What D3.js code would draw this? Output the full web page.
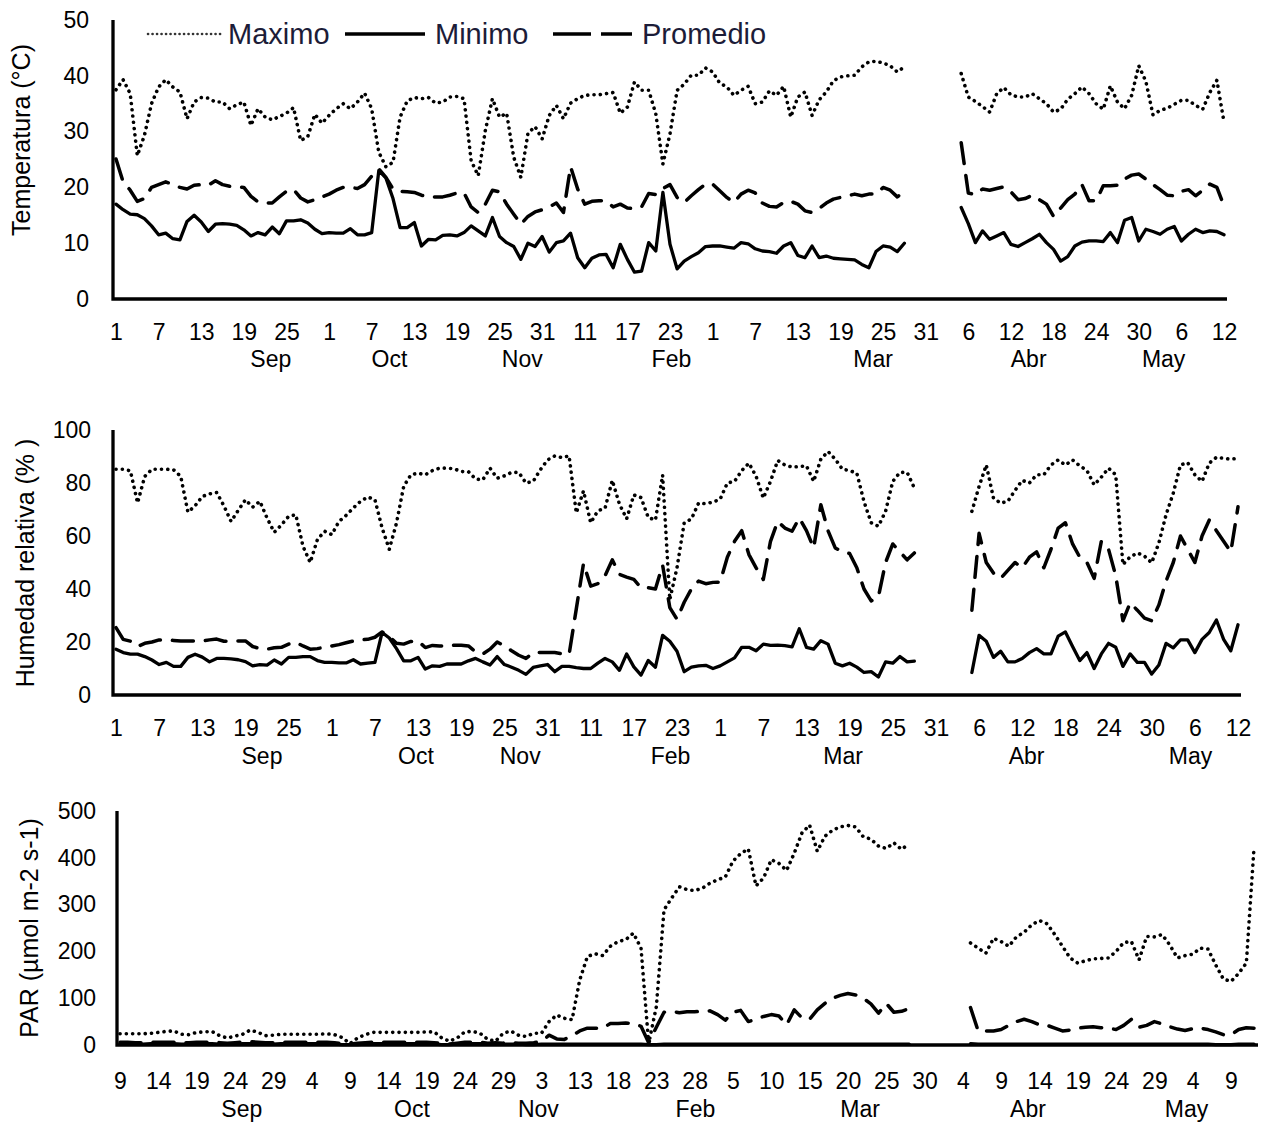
<!DOCTYPE html>
<html>
<head>
<meta charset="utf-8">
<script src="https://cdn.jsdelivr.net/npm/d3@7"></script>
<style>
  body { margin: 0; background: #fff; }
  svg text { font-family: "Liberation Sans", Arial, Helvetica, sans-serif; fill: #000; }
</style>
</head>
<body>
<div id="chart"></div>
<script>
// ---- tick labels (category axis, one label every 6 / 5 days) ----
const dayLabels = ["1","7","13","19","25","1","7","13","19","25","31","11","17","23",
                   "1","7","13","19","25","31","6","12","18","24","30","6","12"];
const parLabels = ["9","14","19","24","29","4","9","14","19","24","29","3","13","18","23",
                   "28","5","10","15","20","25","30","4","9","14","19","24","29","4","9"];
const monthNames = ["Sep","Oct","Nov","Feb","Mar","Abr","May"];
// month label positions, in category index units
const tempMonthPos = [21.8, 38.5, 57.2, 78.2, 106.6, 128.5, 147.5];
const humMonthPos  = [20.3, 41.7, 56.2, 77.1, 101.1, 126.6, 149.4];
const parMonthPos  = [15.9, 38.1, 54.6, 75.1, 96.6, 118.5, 139.2];

// ---- Temperatura (°C) ----
const tempMax = [37.5,39.3,36.8,25.7,29.3,35,38,39.3,38,37.1,
  32.3,35.3,36.1,36,35.3,35.3,34.1,34.8,35.3,31.1,
  34.1,32.6,32.1,32.7,33.3,34.3,28.4,29.1,33.1,31.5,
  32.9,34.1,35,34.1,35.3,36.9,34.1,26.3,23.7,24.5,
  32.6,35.5,36.1,35.9,36.1,35.1,35.3,36.2,36.3,35.9,
  24.8,22.1,30.2,35.9,32.6,33.3,25.4,21.8,29.7,30.9,
  28.7,32.9,34.7,32.3,35.1,35.9,36.5,36.6,36.6,36.8,
  37,33.3,34.4,38.9,37.4,37.4,33.2,24.2,29.6,37.4,
  38.5,40.1,40.1,41.4,40.7,38.7,38,36.5,37.4,38.1,
  35,35.3,37.3,36.5,38.1,32.6,36.2,37.1,32.9,35.7,
  37.1,39.1,39.8,40,40.1,41.6,42.5,42.6,42.3,41.8,
  40.7,41.6,
  null,null,null,null,null,null,null,
  40.4,36.2,35.4,34.5,33.5,36.8,37.9,36.6,36.2,36.2,
  36.8,35.9,35,33.5,34,35.8,36.8,38,36.8,35,
  34,38.2,35.3,34.1,36.5,41.8,39,33,33.8,34.2,
  34.9,35.6,35.6,34.7,34,37,39.2,31.7];
const tempMin = [17,16,15.2,15.1,14.4,13.1,11.5,11.8,10.8,10.6,
  13.9,15,13.8,12.1,13.4,13.5,13.4,13.2,12.4,11.3,
  11.9,11.5,12.9,11.7,14,14,14.2,13.6,12.5,11.7,
  11.9,11.8,11.8,12.6,11.5,11.5,11.9,23,21.7,18,
  12.8,12.8,13.7,9.5,10.7,10.6,11.4,11.5,11.3,11.9,
  13.1,12.2,11.3,14.6,11.2,10.1,9.4,7.1,10,9.4,
  11.2,8.4,10.1,10.4,11.8,7.4,5.6,7.3,7.9,8,
  5.6,9.8,7.1,4.8,5,10.1,8.6,19.1,9.8,5.4,
  6.8,7.6,8.3,9.4,9.5,9.5,9.3,9.1,10.1,9.9,
  9,8.6,8.5,8.2,9.5,10.1,7.8,7.4,9.5,7.4,
  7.7,7.3,7.2,7.1,7,6.2,5.6,8.5,9.5,9.3,
  8.5,10,
  null,null,null,null,null,null,null,
  16.4,13.5,10.1,12.2,10.7,11.3,11.9,9.8,9.4,10.1,
  10.8,11.6,10.1,8.9,6.8,7.6,9.5,10.2,10.4,10.4,
  10.3,11.9,10.1,14.1,14.6,10.4,12.5,12.1,11.6,12.5,
  13,10.4,11.6,12.5,11.9,12.2,12.1,11.5];
const tempAvg = [25.1,21,19.5,17.5,18,20,20.5,21,20.5,20,
  19.7,20.4,20.5,20.4,21.2,20.5,20.2,20.1,20,18.4,
  17.4,17.2,17.2,18.3,19.3,19.6,18.1,17.4,17.8,18.3,
  18.8,19.5,20,20,19.8,20.5,22,23.3,21.8,19.7,
  19.3,19.2,19.1,18.6,18.3,18.3,18.3,18.6,19,19,
  16.5,15.5,17,19.5,19.2,17,15.2,13.4,14.8,15.6,
  16,16.5,17.2,15.5,23.7,19.7,17,17.5,17.6,17.6,
  16.5,17,16.3,16.2,16.5,18.9,18.7,19.8,20.5,18.2,
  17.3,18.5,19.6,20.6,20.6,19.4,18.2,17.3,18.8,19.5,
  19,17.2,16.6,16.5,17.3,17.5,17,15.8,15.5,16.2,
  17.2,17.9,18.2,18.5,18.8,18.5,18.8,18.8,20,19.5,
  18.3,19.3,
  null,null,null,null,null,null,null,
  28,19,18.7,19.7,19.5,19.8,20.1,19.2,17.8,18,
  18.6,17.8,17,14.8,16.3,17.8,18.8,20.5,17.6,17.6,
  20.3,20.3,20.4,21.5,22.2,22.4,21.5,20.5,19.6,18.6,
  18.5,19.3,19.6,18.5,19.5,20.6,20,16.7];

// ---- Humedad relativa (%) ----
const humMax = [85.2,85.2,84.6,72.5,82.5,85.2,85.2,85.2,85,82.5,
  69,71.4,74.9,75.9,76.4,71.4,65.5,69.7,73.7,70.9,
  73.1,66.8,61.4,64.2,67.4,68,56.1,50,58.6,61.8,
  60.5,65.5,67.8,70.6,73.1,74.7,73.7,63,55,64.9,
  78.7,83.1,83.7,83.1,84.7,85.6,85.6,85.4,84.3,84.3,
  81.5,81.2,85.6,81.8,82.7,84,84,80,80.6,85,
  88.7,90.2,89.6,90.2,68.7,77,65,69.5,70.5,81,
  72,66.5,75.5,74.5,67,66,83,36,48,65,
  66.4,72.4,72.2,72.8,73.9,80,80.6,84.7,87.5,82.5,
  74.3,80.6,88.5,86.8,86,86.2,86.5,80.6,89,91.9,
  89,85.2,84.7,83.7,73,65,63.7,69.3,80.6,84,
  84,78.1,
  null,null,null,null,null,null,null,
  69.3,78.7,86.8,74.3,72.4,73.1,77.2,81,80,83.1,
  83.1,86.8,88.7,86.8,88.7,86.5,84.7,79.3,82.2,85.6,
  83.1,49.2,52.1,53.6,52.4,49.9,57.4,68,76.2,86.8,
  87.7,83.1,80.6,87.5,89.7,89.3,89,89.3];
const humMin = [17.3,16,15.4,15.4,14.5,13.2,11.5,12.3,10.8,10.8,
  14.2,15.4,14.3,12.5,13.8,13.8,13.6,13.3,12.6,11,
  11.5,11.3,13.2,11.7,14.2,14.2,14.5,14.5,13,12.3,
  12.3,12.1,12.1,13.3,11.7,12,12.3,23.6,21.5,17.5,
  12.9,12.9,14.2,9.8,11,10.8,11.7,11.7,11.7,12.9,
  13.8,12.5,11.3,14.5,11.5,10.5,9.3,7.8,10.4,11,
  11.5,8.8,10.8,10.8,10.3,10,10,12,13.8,12.5,
  9.3,15.5,10.6,7.5,13,10.5,22.5,20.3,16.5,8.8,
  10.5,11,11.2,10,11,12.5,14,18,18,16.7,
  19.2,18.7,18.8,18.6,18.2,25,18,17.3,20.5,19.2,
  12,11,12,10.5,8.5,8.8,6.8,12.5,12,14.5,
  12.5,12.8,
  null,null,null,null,null,null,null,
  8.5,22.5,20.3,14.2,16.5,12.5,12.5,13.8,16,17.5,
  15.5,15.5,22.2,23.8,18.3,13,16,10,15.5,19.5,
  18,10.8,15.5,12.3,12.3,7.9,11.3,19.5,17.8,20.8,
  20.8,16,21,23.6,28.3,21,16.7,26.5];
const humAvg = [25.4,21,20.3,18.3,19.5,20,20.8,20.8,20.6,20.4,
  20.4,20.4,20.4,20.8,21.1,20.3,20.4,20.4,20.4,18.3,
  17.5,17.3,17.8,18,19.2,19.9,18.5,17.3,17.5,18,
  18.5,19,19.7,20.4,20.8,21,21.8,23.8,22,19.5,
  19.2,20.2,20.4,17.9,18.7,18.5,18.5,18.8,18.8,18.5,
  16.3,15.5,17.3,20,18.5,16.7,15,13.8,16,16,
  16,16,15.6,15.4,32.5,49.6,41.1,42,45,51,
  45.5,44.5,43.6,40.5,40.5,40,49,33,28.6,35,
  40,43,42,42.5,42.6,52,58,62,53,48,
  43.6,58,65.5,63,61.8,66.8,62,55.5,71.8,62,
  55.5,54,53.4,48,40,35.5,37,50,57,54,
  51,53.6,
  null,null,null,null,null,null,null,
  32,61,50,46,44,47,50,48,52,54,
  48,55,63,65,57,52,50,44,58,55,
  45,28,34.8,32,29,28,34,43,50,60,
  55,50,60,66,62,58,54,71];

// ---- PAR (µmol m-2 s-1) ----
const parMax = [24,24,24,24,25,27,29,30,23,22,
  27,28,29,20,15,19,23,32,27,20,
  21,23,23,23,23,23,23,24,22,16,
  3,15,22,27,27,27,27,27,27,27,
  28,28,15,8,15,28,29,25,12,8,
  25,30,21,18,25,25,50,64,57,54,
  139,189,195,191,211,221,225,239,207,3,
  82,289,314,338,332,330,335,346,353,359,
  393,409,419,340,357,396,388,373,410,453,
  470,414,446,459,466,469,466,445,440,425,
  420,432,418,430,
  null,null,null,null,null,null,null,
  218,207,196,228,221,211,231,241,257,266,
  259,236,211,186,175,180,184,185,186,200,
  219,221,182,232,231,236,214,186,191,194,
  207,205,171,141,136,153,175,421];
const parMin = [3,3,2,2,3,3,3,3,2,2,
  3,3,3,2,2,2,3,3,3,2,
  2,3,3,3,3,3,3,3,2,1,
  1,1,2,3,3,3,3,3,3,3,
  3,2,1,1,2,3,3,3,2,2,
  2,2,2,1,1,2,2,2,2,2,
  2,2,2,2,2,2,2,2,2,1,
  1,2,2,2,2,2,2,2,2,2,
  2,2,2,2,2,2,2,2,2,2,
  2,2,2,2,2,2,2,2,2,2,
  2,2,2,2,
  null,null,null,null,null,null,null,
  3,2,2,2,2,2,2,2,2,2,
  2,2,2,2,2,2,2,2,2,2,
  2,2,2,2,2,2,2,2,2,2,
  2,2,1,1,1,2,2,2];
const parAvg = [6,6,5,5,6,6,6,6,5,5,
  6,6,6,5,4,5,6,7,6,5,
  5,6,6,6,6,6,6,6,5,3,
  2,4,5,6,6,6,6,6,6,6,
  6,5,3,2,4,6,6,6,4,
  5,4,5,4,4,5,8,21,13,12,
  20,30,36,36,36,46,46,47,46,40,
  5,38,70,72,69,71,71,72,73,65,
  53,70,74,50,55,61,65,62,43,75,
  58,55,75,89,100,106,110,107,100,88,
  68,89,70,72,78,
  null,null,null,null,null,null,null,
  80,30,30,30,33,42,50,55,50,43,
  42,36,30,32,36,38,39,37,36,33,
  42,55,38,42,50,45,39,34,31,35,
  36,33,28,22,22,33,37,36];

const W = 1263, H = 1124;
const svg = d3.select('#chart').append('svg')
    .attr('width', W)
    .attr('height', H);

const styles = {
    max: {width: 3.6, dash: '0.1 6.2', cap: 'round'},
    avg: {width: 3.5, dash: '21 12', cap: 'round'},
    min: {width: 3.3, dash: null, cap: 'round'}
};

function drawPanel(p) {
    const n = p.max.length;
    const x = d3.scaleLinear().domain([0, n - 1]).range(p.xRange);
    const y = d3.scaleLinear().domain([0, p.yMax]).range([p.yBottom, p.yTop]);
    const g = svg.append('g');

    const line = d3.line()
        .defined(d => d != null)
        .x((d, i) => x(i))
        .y(d => y(d));

    [['max', p.max], ['avg', p.avg], ['min', p.min]].forEach(([key, values]) => {
        const s = styles[key];
        g.append('path')
            .datum(values)
            .attr('fill', 'none')
            .attr('stroke', '#000')
            .attr('stroke-width', s.width)
            .attr('stroke-linecap', s.cap)
            .attr('stroke-linejoin', 'round')
            .attr('stroke-dasharray', s.dash)
            .attr('d', line);
    });

    // y axis labels
    const yAxis = d3.axisLeft(y)
        .tickValues(d3.range(0, p.yMax + 1, p.yStep))
        .tickSize(0)
        .tickPadding(p.yPad);
    const yG = g.append('g')
        .attr('transform', `translate(${p.axisX},0)`)
        .call(yAxis);
    yG.select('.domain').remove();
    yG.selectAll('text').attr('font-size', 23).attr('fill', '#000');

    // x axis labels
    const xAxis = d3.axisBottom(x)
        .tickValues(d3.range(0, n, p.every))
        .tickFormat((d, i) => p.labels[i])
        .tickSize(0)
        .tickPadding(p.xPad);
    const xG = g.append('g')
        .attr('transform', `translate(0,${p.yBottom})`)
        .call(xAxis);
    xG.select('.domain').remove();
    xG.selectAll('text').attr('font-size', 23).attr('fill', '#000');

    // month group labels
    g.selectAll('.month')
        .data(monthNames)
        .enter().append('text')
        .attr('class', 'month')
        .attr('x', (d, i) => x(p.months[i]))
        .attr('y', p.yBottom + p.monthOff)
        .attr('text-anchor', 'middle')
        .attr('font-size', 23)
        .text(d => d);

    // axis lines
    g.append('path')
        .attr('d', `M${p.axisX},${y(p.yMax)}V${p.yBottom}H${p.axisEnd}`)
        .attr('fill', 'none')
        .attr('stroke', '#000')
        .attr('stroke-width', 3.3)
        .attr('stroke-linejoin', 'miter');

    // axis title
    g.append('text')
        .attr('transform', `translate(${p.titleX},${p.titleY}) rotate(-90)`)
        .attr('text-anchor', 'middle')
        .attr('font-size', 25)
        .text(p.title);
}

drawPanel({
    max: tempMax, min: tempMin, avg: tempAvg,
    xRange: [116, 1224], yBottom: 299, yTop: 20, yMax: 50, yStep: 10,
    axisX: 113, axisEnd: 1227, yPad: 24, xPad: 24.7, every: 6,
    labels: dayLabels, months: tempMonthPos, monthOff: 68,
    title: 'Temperatura (°C)', titleX: 30, titleY: 140
});
drawPanel({
    max: humMax, min: humMin, avg: humAvg,
    xRange: [116, 1238], yBottom: 695, yTop: 430, yMax: 100, yStep: 20,
    axisX: 113, axisEnd: 1241, yPad: 22, xPad: 25, every: 6,
    labels: dayLabels, months: humMonthPos, monthOff: 69,
    title: 'Humedad relativa (% )', titleX: 34, titleY: 563
});
drawPanel({
    max: parMax, min: parMin, avg: parAvg,
    xRange: [120, 1254], yBottom: 1045, yTop: 811, yMax: 500, yStep: 100,
    axisX: 117, axisEnd: 1258, yPad: 21, xPad: 28, every: 5,
    labels: parLabels, months: parMonthPos, monthOff: 72,
    title: 'PAR (µmol m-2 s-1)', titleX: 38, titleY: 928
});

// legend (top panel)
const legend = svg.append('g').attr('class', 'legend');
const legendItems = [
    {name: 'Maximo', x1: 148, x2: 222, tx: 228, width: 2.6, dash: '0.1 4.4', color: '#333'},
    {name: 'Minimo', x1: 345, x2: 425, tx: 435, width: 3.4, dash: null, color: '#000'},
    {name: 'Promedio', x1: 553, x2: 632, tx: 642, width: 3.6, dash: '38 10', color: '#000'}
];
legendItems.forEach(d => {
    legend.append('line')
        .attr('x1', d.x1).attr('x2', d.x2)
        .attr('y1', 34).attr('y2', 34)
        .attr('stroke', d.color)
        .attr('stroke-width', d.width)
        .attr('stroke-linecap', d.dash && d.dash.startsWith('0.1') ? 'round' : 'butt')
        .attr('stroke-dasharray', d.dash);
    legend.append('text')
        .attr('x', d.tx)
        .attr('y', 44)
        .attr('font-size', 29)
        .style('fill', '#1c1c38')
        .text(d.name);
});
</script>
</body>
</html>
